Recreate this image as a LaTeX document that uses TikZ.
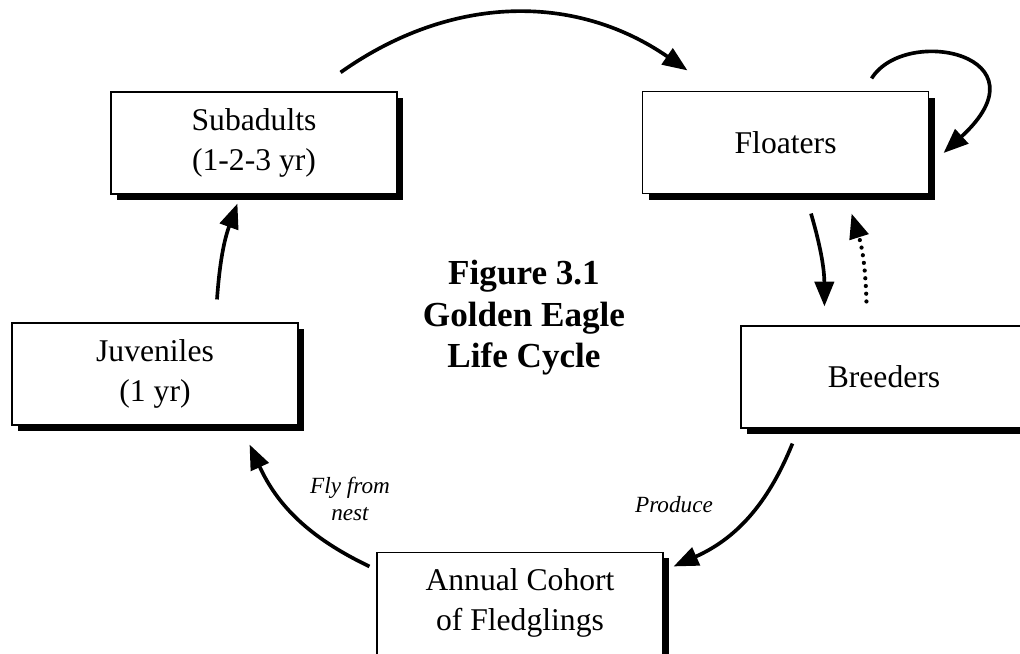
\documentclass[tikz,border=0pt]{standalone}
\usepackage{fontspec}
\setmainfont{Liberation Serif}
\usetikzlibrary{arrows.meta, shadows}

\begin{document}
\begin{tikzpicture}[
        stage/.style={rectangle, draw, line width=0.8pt, fill=white, minimum width=7.15cm, minimum height=2.55cm, inner sep=0pt, align=center, font=\fontsize{22.5}{28.5}\selectfont, drop shadow={shadow xshift=0.15cm, shadow yshift=-0.15cm, fill=black, opacity=1}},
        flow/.style={-{Triangle[length=0.62cm, width=0.48cm]}, line width=2.6pt},
        maybe/.style={-{Triangle[length=0.62cm, width=0.48cm]}, line width=3pt, dash pattern=on 0pt off 5.5pt, line cap=round},
        note/.style={font=\fontsize{16.5}{19.5}\selectfont\itshape, align=center}
    ]
        \useasboundingbox (0,0) rectangle (25.5,16.35);
        \clip (0,0) rectangle (25.5,16.35);

        % Life stages
        \node[stage] (sub) at (6.35,12.775) {Subadults\\(1-2-3 yr)};
        \node[stage] (flo) at (19.64,12.78) {Floaters};
        \node[stage] (juv) at (3.875,7.0) {Juveniles\\(1 yr)};
        \node[stage] (bre) at (22.1,6.925) {Breeders};
        \node[stage] (ann) at (13.0,1.27) {Annual Cohort\\of Fledglings};

        % Title
        \node[font=\fontsize{25}{29.5}\selectfont\bfseries, align=center] (title) at (13.1,8.4) {Figure 3.1\\Golden Eagle\\Life Cycle};

        % Cycle
        \draw[flow] ([shift={(-1.425,0.475)}]sub.north east) to[bend left=35] ([shift={(1.135,0.52)}]flo.north west);
        \draw[flow] ([shift={(-1.44,0.32)}]flo.north east) .. controls +(0.85,1.35) and +(2.675,2.45) .. ([shift={(0.36,-0.255)}]flo.east);
        \draw[flow] ([shift={(0.635,-0.48)}]flo.south) to[bend left=8] ([shift={(2.1,0.475)}]bre.north west);
        \draw[maybe] ([shift={(3.15,0.6)}]bre.north west) to[bend right=8] ([shift={(-1.94,-0.48)}]flo.south east);
        \draw[flow] ([shift={(1.3,-0.375)}]bre.south west) to[bend left=22] ([shift={(0.25,-0.37)}]ann.north east);
        \draw[flow] ([shift={(-0.175,-0.37)}]ann.north west) to[bend left=20] ([shift={(-1.225,-0.475)}]juv.south east);
        \draw[flow] ([shift={(1.55,0.575)}]juv.north) to[bend left=8] ([shift={(3.175,-0.225)}]sub.south west);

        % Labels
        \node[note] (fly) at (8.75,3.875) {Fly from\\nest};
        \node[note] (prod) at (16.85,3.74) {Produce};

    \end{tikzpicture}
\end{document}
